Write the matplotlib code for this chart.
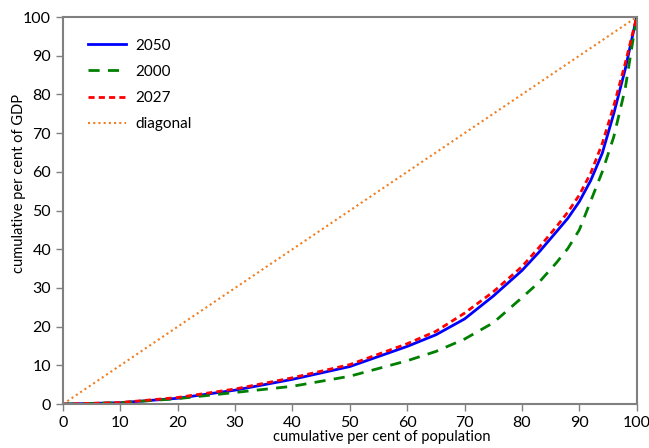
import matplotlib
matplotlib.use("Agg")
import matplotlib.pyplot as plt

plt.rcParams['font.family'] = ['Lato', 'DejaVu Sans']

# cumulative per cent of population
pop = [0, 10, 20, 30, 40, 50, 60, 65, 70, 75, 80, 83, 86, 88, 90, 92, 94, 96, 98, 100]
# cumulative per cent of GDP
gdp_2050 = [0, 0.35, 1.5, 3.6, 6.4, 9.7, 14.9, 17.9, 22.0, 27.9, 34.5, 39.3, 44.5, 48.0, 52.3, 57.8, 64.8, 75.0, 86.5, 100]
gdp_2000 = [0, 0.35, 1.4, 3.0, 4.6, 7.2, 11.2, 13.6, 16.8, 21.0, 27.5, 31.5, 36.5, 40.2, 45.0, 52.5, 60.0, 69.0, 81.5, 100]
gdp_2027 = [0, 0.4, 1.7, 3.9, 6.8, 10.2, 15.6, 18.8, 23.5, 29.0, 35.5, 40.5, 45.8, 49.6, 54.0, 59.7, 67.3, 77.0, 88.0, 100]
diag = [0, 100]

fig = plt.figure(figsize=(6.49, 4.48), dpi=100)
ax = fig.add_axes([0.097, 0.098, 0.884, 0.864])

ax.plot(pop, gdp_2050, color='#0000ff', lw=2, label='2050')
ax.plot(pop, gdp_2000, color='#008000', lw=2, ls=(0, (4, 3)), label='2000')
ax.plot(pop, gdp_2027, color='#ff0000', lw=2, ls=(0, (2.2, 1.5)), label='2027')
ax.plot(diag, diag, color='#f07f22', lw=1.5, ls=(0, (1, 1.5)), label='diagonal')

ax.set_xlim(0, 100)
ax.set_ylim(0, 100)
ax.set_xticks(range(0, 101, 10))
ax.set_yticks(range(0, 101, 10))
for s in ax.spines.values():
    s.set_color('#808080')
    s.set_linewidth(1.5)
ax.tick_params(colors='#808080', labelcolor='black', labelsize=11.5, length=5, width=1)
ax.set_xlabel('cumulative per cent of population', fontsize=10.5)
ax.set_ylabel('cumulative per cent of GDP', fontsize=10.5)
ax.xaxis.set_label_coords(0.556, -0.068)
ax.yaxis.set_label_coords(-0.065, 0.57)

ax.legend(loc='upper left', frameon=False, fontsize=11, handlelength=2.5,
          handletextpad=0.6, labelspacing=0.8, bbox_to_anchor=(0.02, 0.98))

fig.savefig('out.png', dpi=100)
